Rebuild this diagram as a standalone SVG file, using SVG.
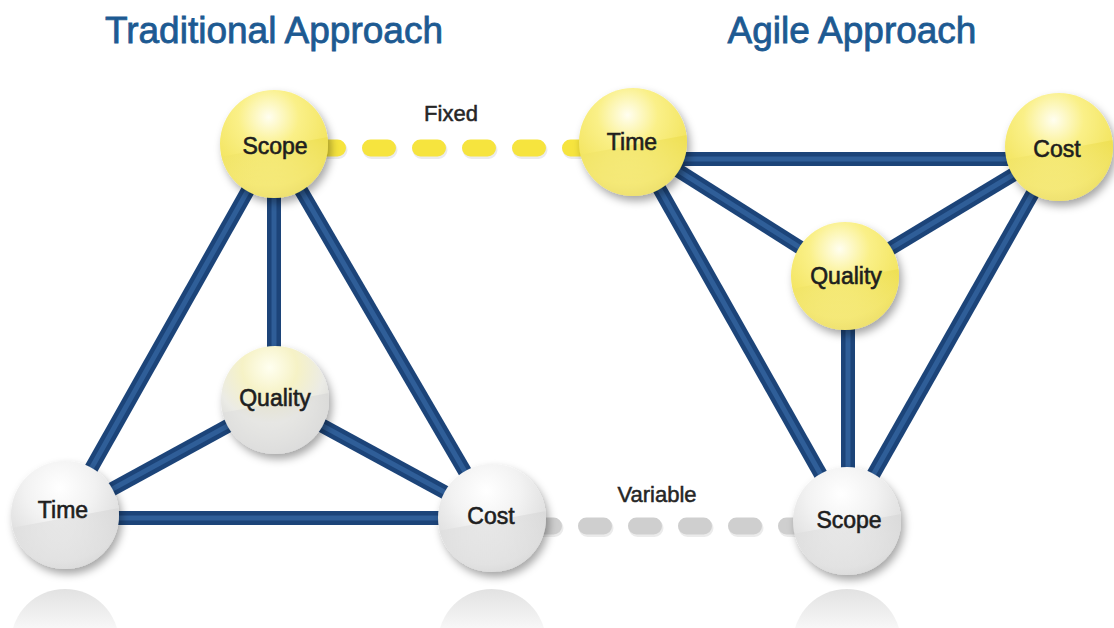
<svg xmlns="http://www.w3.org/2000/svg" xmlns:xlink="http://www.w3.org/1999/xlink" width="1114" height="628" viewBox="0 0 1114 628">
<style>
.title{font-family:"Liberation Sans",Arial,sans-serif;font-size:37px;fill:#1d5a92;text-anchor:middle;stroke:#1d5a92;stroke-width:0.8}
.lbl{font-family:"Liberation Sans",Arial,sans-serif;font-size:23px;fill:#1e1e1e;text-anchor:middle;stroke:#1e1e1e;stroke-width:0.6}
.cap{font-family:"Liberation Sans",Arial,sans-serif;font-size:22px;fill:#262626;text-anchor:middle;stroke:#262626;stroke-width:0.5}
.edgeO{stroke:#1c4479;stroke-width:14;stroke-linecap:butt;fill:none}
.edgeI{stroke:#3567a3;stroke-width:5;stroke-linecap:butt;fill:none;opacity:0.75}
.dashY{stroke:#f6e43e;stroke-width:17;stroke-linecap:round;stroke-dasharray:17 33;fill:none}
.dashG{stroke:#cfcfcf;stroke-width:17;stroke-linecap:round;stroke-dasharray:17 33;fill:none}
.dashS{stroke:#000;stroke-opacity:0.08;stroke-width:18;stroke-linecap:round;stroke-dasharray:17 33;fill:none}
</style>
<defs>
<filter id="shadow" x="-30%" y="-30%" width="160%" height="160%">
<feDropShadow dx="3" dy="5" stdDeviation="4" flood-color="#000" flood-opacity="0.35"/>
</filter>
<radialGradient id="gY" cx="0.45" cy="0.25" r="0.8">
<stop offset="0" stop-color="#fffef0"/>
<stop offset="0.35" stop-color="#faf088"/>
<stop offset="0.8" stop-color="#f2e35a"/>
<stop offset="1" stop-color="#e2cf3a"/>
</radialGradient>
<radialGradient id="gG" cx="0.45" cy="0.25" r="0.8">
<stop offset="0" stop-color="#ffffff"/>
<stop offset="0.4" stop-color="#f2f2f2"/>
<stop offset="0.85" stop-color="#dadada"/>
<stop offset="1" stop-color="#c6c6c6"/>
</radialGradient>
<radialGradient id="gM" cx="0.45" cy="0.2" r="0.85">
<stop offset="0" stop-color="#fffff0"/>
<stop offset="0.3" stop-color="#f6f2c6"/>
<stop offset="0.6" stop-color="#ebebe6"/>
<stop offset="1" stop-color="#cacaca"/>
</radialGradient>
<linearGradient id="lowY" x1="0" y1="0" x2="0" y2="1">
<stop offset="0" stop-color="#e8d83c" stop-opacity="0.45"/>
<stop offset="1" stop-color="#fffbd0" stop-opacity="0.35"/>
</linearGradient>
<linearGradient id="lowG" x1="0" y1="0" x2="0" y2="1">
<stop offset="0" stop-color="#d2d2d2" stop-opacity="0.5"/>
<stop offset="1" stop-color="#f4f4f4" stop-opacity="0.4"/>
</linearGradient>
<linearGradient id="refl" x1="0" y1="0" x2="0" y2="1">
<stop offset="0" stop-color="#e2e2e2"/>
<stop offset="0.5" stop-color="#ffffff"/>
<stop offset="1" stop-color="#ffffff"/>
</linearGradient>
<clipPath id="sc"><circle cx="0" cy="0" r="54"/></clipPath>
<g id="sphY">
<circle r="54" fill="url(#gY)" filter="url(#shadow)"/>
<path d="M-60 14 L60 -8 L60 60 L-60 60 Z" fill="url(#lowY)" clip-path="url(#sc)"/>
</g>
<g id="sphG">
<circle r="54" fill="url(#gG)" filter="url(#shadow)"/>
<path d="M-60 14 L60 -8 L60 60 L-60 60 Z" fill="url(#lowG)" clip-path="url(#sc)"/>
</g>
<g id="sphM">
<circle r="54" fill="url(#gM)" filter="url(#shadow)"/>
<path d="M-60 14 L60 -8 L60 60 L-60 60 Z" fill="url(#lowG)" clip-path="url(#sc)"/>
</g>
<circle id="reflC" r="54" fill="url(#refl)"/>
</defs>
<rect width="1114" height="628" fill="#ffffff"/>

<g id="titles">
<text class="title" x="274" y="43">Traditional Approach</text>
<text class="title" x="852" y="43">Agile Approach</text>
</g>

<g id="reflections">
<use xlink:href="#reflC" x="65" y="643"/>
<use xlink:href="#reflC" x="492" y="643"/>
<use xlink:href="#reflC" x="847" y="643"/>
</g>

<g id="connectors">
<line class="dashS" x1="321.5" y1="150" x2="601" y2="150"/>
<line class="dashY" x1="320.5" y1="148" x2="600" y2="148"/>
<line class="dashS" x1="537.5" y1="528" x2="801" y2="528"/>
<line class="dashG" x1="536.5" y1="526" x2="800" y2="526"/>
<g id="trad-edges">
<line class="edgeO" x1="274" y1="144" x2="65" y2="515"/>
<line class="edgeI" x1="274" y1="144" x2="65" y2="515"/>
<line class="edgeO" x1="274" y1="144" x2="492" y2="518"/>
<line class="edgeI" x1="274" y1="144" x2="492" y2="518"/>
<line class="edgeO" x1="274" y1="144" x2="274" y2="400"/>
<line class="edgeI" x1="274" y1="144" x2="274" y2="400"/>
<line class="edgeO" x1="275" y1="400" x2="65" y2="515"/>
<line class="edgeI" x1="275" y1="400" x2="65" y2="515"/>
<line class="edgeO" x1="275" y1="400" x2="492" y2="518"/>
<line class="edgeI" x1="275" y1="400" x2="492" y2="518"/>
<line class="edgeO" x1="65" y1="518" x2="492" y2="518"/>
<line class="edgeI" x1="65" y1="518" x2="492" y2="518"/>
</g>
<g id="agile-edges">
<line class="edgeO" x1="640" y1="159" x2="1050" y2="159"/>
<line class="edgeI" x1="640" y1="159" x2="1050" y2="159"/>
<line class="edgeO" x1="633" y1="142" x2="845" y2="276"/>
<line class="edgeI" x1="633" y1="142" x2="845" y2="276"/>
<line class="edgeO" x1="1059" y1="147" x2="845" y2="276"/>
<line class="edgeI" x1="1059" y1="147" x2="845" y2="276"/>
<line class="edgeO" x1="633" y1="142" x2="847" y2="521"/>
<line class="edgeI" x1="633" y1="142" x2="847" y2="521"/>
<line class="edgeO" x1="1059" y1="147" x2="847" y2="521"/>
<line class="edgeI" x1="1059" y1="147" x2="847" y2="521"/>
<line class="edgeO" x1="848" y1="276" x2="848" y2="521"/>
<line class="edgeI" x1="848" y1="276" x2="848" y2="521"/>
</g>
</g>

<g id="conn-labels">
<text class="cap" x="451" y="121">Fixed</text>
<text class="cap" x="657" y="502">Variable</text>
</g>

<g id="trad-scope"><use xlink:href="#sphY" x="274" y="144"/><text class="lbl" x="275" y="154">Scope</text></g>
<g id="trad-quality"><use xlink:href="#sphM" x="275" y="400"/><text class="lbl" x="275" y="406">Quality</text></g>
<g id="trad-time"><use xlink:href="#sphG" x="65" y="515"/><text class="lbl" x="63" y="518">Time</text></g>
<g id="trad-cost"><use xlink:href="#sphG" x="492" y="518"/><text class="lbl" x="491" y="524">Cost</text></g>

<g id="agile-time"><use xlink:href="#sphY" x="633" y="142"/><text class="lbl" x="632" y="150">Time</text></g>
<g id="agile-cost"><use xlink:href="#sphY" x="1059" y="147"/><text class="lbl" x="1057" y="157">Cost</text></g>
<g id="agile-quality"><use xlink:href="#sphY" x="845" y="276"/><text class="lbl" x="846" y="284">Quality</text></g>
<g id="agile-scope"><use xlink:href="#sphG" x="847" y="521"/><text class="lbl" x="849" y="528">Scope</text></g>
</svg>
